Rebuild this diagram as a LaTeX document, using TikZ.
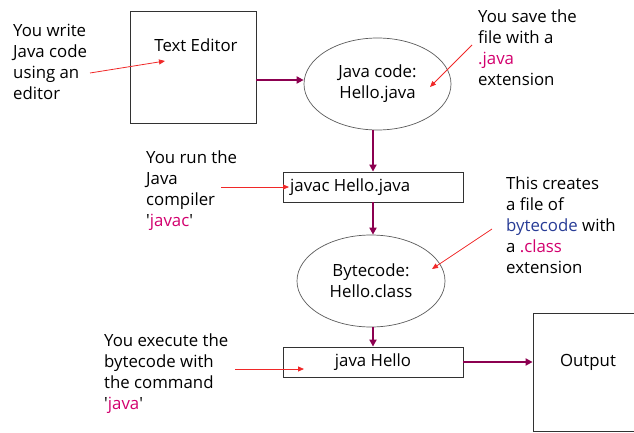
\documentclass[tikz,border=0pt]{standalone}
\usepackage{fontspec}
\setmainfont{Open Sans}[Ligatures=TeXOff]
\usetikzlibrary{arrows.meta,shapes.geometric}
\definecolor{flow}{RGB}{140,0,80}
\definecolor{note}{RGB}{240,40,40}
\definecolor{kw}{RGB}{210,0,110}
\definecolor{bc}{RGB}{40,60,150}
\definecolor{edge}{RGB}{50,50,50}
\begin{document}
\begin{tikzpicture}[x=1pt,y=-1pt,
  every node/.style={font=\fontsize{16.8}{21}\selectfont, inner sep=0pt},
  notetext/.style={anchor=north west, align=left},
  stage/.style={draw=edge, line width=0.8pt, rectangle},
  blob/.style={draw=edge!80, line width=0.7pt, ellipse, align=center},
  flowarrow/.style={draw=flow, line width=2.2pt, -{Triangle[length=7pt,width=7pt]}},
  notearrow/.style={draw=note, line width=0.8pt, -{Triangle[length=6pt,width=5pt]}}]
\useasboundingbox (0,0) rectangle (634,433);
\clip (0,0) rectangle (634,433);

% process boxes and files
\node[stage, minimum width=126pt, minimum height=112pt] (editor) at (193,67) {};
\node (editorlbl) at (196,45) {Text Editor};
\node[blob, minimum width=147pt, minimum height=92pt] (src) at (377.5,84) {Java code:\\Hello.java};
\node[stage, minimum width=180pt, minimum height=30pt] (javac) at (373,187) {};
\node[anchor=west] (javaclbl) at (290,187) {javac Hello.java};
\node[blob, minimum width=148pt, minimum height=92pt] (bytecode) at (371,281) {Bytecode:\\Hello.class};
\node[stage, minimum width=180pt, minimum height=30pt] (run) at (373,362) {java Hello};
\node[stage, minimum width=120pt, minimum height=118pt] (output) at (593,372) {};
\node (outputlbl) at (588,362) {Output};

% main flow
\draw[flowarrow] (editor.east |- 0,80) -- (src.west |- 0,80);
\draw[flowarrow] (src.south -| javac.north) -- (javac.north);
\draw[flowarrow] (javac.south) -- (bytecode.north -| javac.south);
\draw[flowarrow] (bytecode.south -| run.north) -- (run.north);
\draw[flowarrow] (run.east) -- (output.west |- run.east);

% annotations
\node[notetext] (n1) at (13,24) {You write\\Java code\\using an\\editor};
\node[notetext] (n2) at (478,10) {You save the\\file with a\\\textcolor{kw}{.java}\\extension};
\node[notetext] (n3) at (146,151) {You run the\\Java\\compiler\\'\textcolor{kw}{javac}'};
\node[notetext] (n4) at (506,177) {This creates\\a file of\\\textcolor{bc}{bytecode} with\\a \textcolor{kw}{.class}\\extension};
\node[notetext] (n5) at (104,334) {You execute the\\bytecode with\\the command\\'\textcolor{kw}{java}'};

\coordinate (a1s) at (90,73);   \coordinate (a1e) at (165,61);
\coordinate (a2s) at (472,45);  \coordinate (a2e) at (430,87);
\coordinate (a3s) at (221,187); \coordinate (a3e) at (289,187);
\coordinate (a4s) at (492,229); \coordinate (a4e) at (432,269);
\coordinate (a5s) at (235,369); \coordinate (a5e) at (304,369);
\draw[notearrow] (a1s) -- (a1e);
\draw[notearrow] (a2s) -- (a2e);
\draw[notearrow] (a3s) -- (a3e);
\draw[notearrow] (a4s) -- (a4e);
\draw[notearrow] (a5s) -- (a5e);
\end{tikzpicture}
\end{document}
